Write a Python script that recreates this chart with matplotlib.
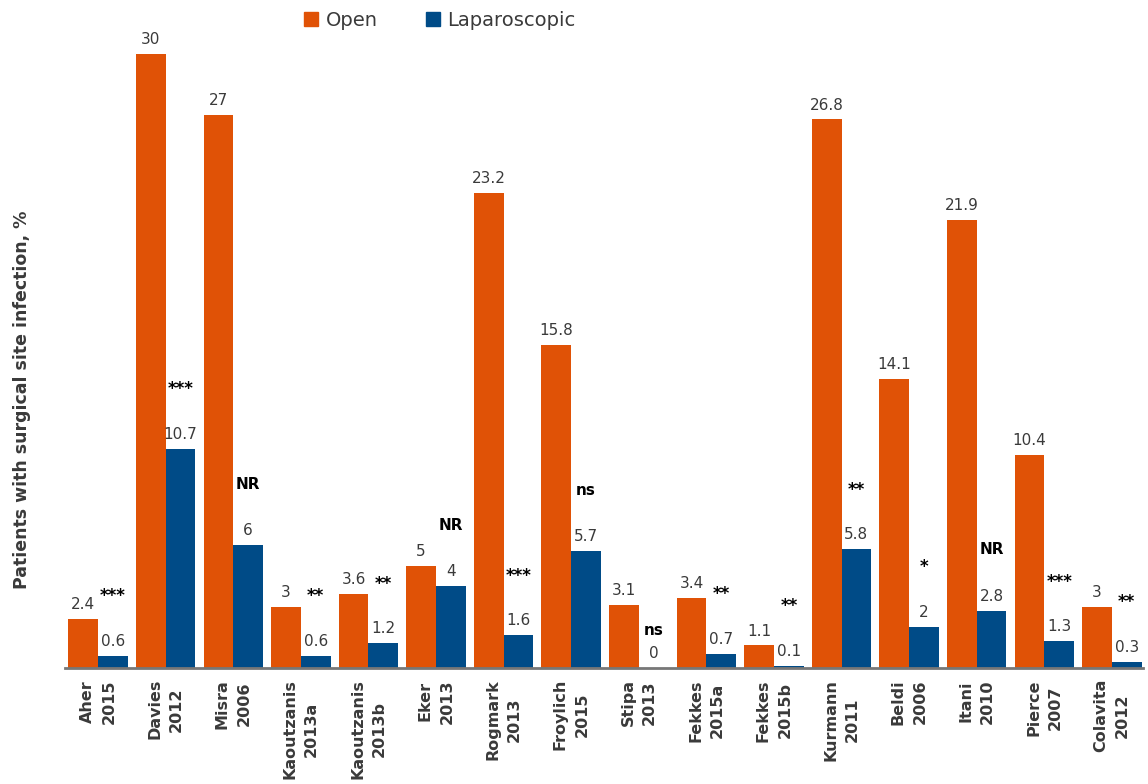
import matplotlib
matplotlib.use("Agg")
import matplotlib.pyplot as plt
from matplotlib.patches import Patch
import numpy as np

studies = ["Aher\n2015", "Davies\n2012", "Misra\n2006", "Kaoutzanis\n2013a", "Kaoutzanis\n2013b",
           "Eker\n2013", "Rogmark\n2013", "Froylich\n2015", "Stipa\n2013", "Fekkes\n2015a",
           "Fekkes\n2015b", "Kurmann\n2011", "Beldi\n2006", "Itani\n2010", "Pierce\n2007",
           "Colavita\n2012"]
open_vals = [2.4, 30, 27, 3, 3.6, 5, 23.2, 15.8, 3.1, 3.4, 1.1, 26.8, 14.1, 21.9, 10.4, 3]
lap_vals = [0.6, 10.7, 6, 0.6, 1.2, 4, 1.6, 5.7, 0, 0.7, 0.1, 5.8, 2, 2.8, 1.3, 0.3]
signif = ["***", "***", "NR", "**", "**", "NR", "***", "ns", "ns", "**", "**", "**", "*", "NR", "***", "**"]

ORANGE = "#E05206"
BLUE = "#004B87"
TXT = "#3a3a3a"

fig = plt.figure(figsize=(11.48, 7.84), dpi=100)
ax = fig.add_axes([65/1148, 1-668/784, (1143-65)/1148, (668-30)/784])

x = np.arange(len(studies))
w = 0.44
ax.bar(x - w/2, open_vals, width=w, color=ORANGE)
ax.bar(x + w/2, lap_vals, width=w, color=BLUE)

ax.set_xlim(-0.49, 15.46)
ax.set_ylim(0, 31.17)

fmt = lambda v: f"{v:g}"
for xi, v in zip(x, open_vals):
    ax.annotate(fmt(v), (xi - w/2, v), xytext=(0, 5), textcoords="offset points",
                ha="center", va="bottom", fontsize=11, color=TXT)
for i, (xi, v) in enumerate(zip(x, lap_vals)):
    ax.annotate(fmt(v), (xi + w/2, v), xytext=(0, 5), textcoords="offset points",
                ha="center", va="bottom", fontsize=11, color=TXT)
    s = signif[i]
    off = 27 if s == "ns" and v == 0 else 44
    dy = -1 if "*" in s else 0
    ax.annotate(s, (xi + w/2, v), xytext=(0, off + dy), textcoords="offset points",
                ha="center", va="center", fontsize=12 if "*" in s else 11,
                fontweight="bold", color="black")

ax.set_xticks(x)
ax.set_xticklabels(studies, rotation=90, fontsize=11.5, fontweight="bold", color=TXT,
                   multialignment="center", va="top", ha="center", linespacing=1.55)
ax.tick_params(axis="x", length=0, pad=8)
ax.set_yticks([])
for s in ["left", "right", "top"]:
    ax.spines[s].set_visible(False)
ax.spines["bottom"].set_color("#777777")
ax.spines["bottom"].set_linewidth(2)

fig.text(22/1148, 1-400/784, "Patients with surgical site infection, %", rotation=90,
         ha="center", va="center", fontsize=12.5, fontweight="bold", color=TXT)

handles = [Patch(color=ORANGE, label="Open"), Patch(color=BLUE, label="Laparoscopic")]
fig.legend(handles=handles, loc="center", bbox_to_anchor=(440/1148, 1-20/784), ncol=2,
           frameon=False, fontsize=14, handlelength=0.7, handleheight=0.7,
           columnspacing=2.5, handletextpad=0.4, labelcolor=TXT)

fig.savefig("out.png", dpi=100)
